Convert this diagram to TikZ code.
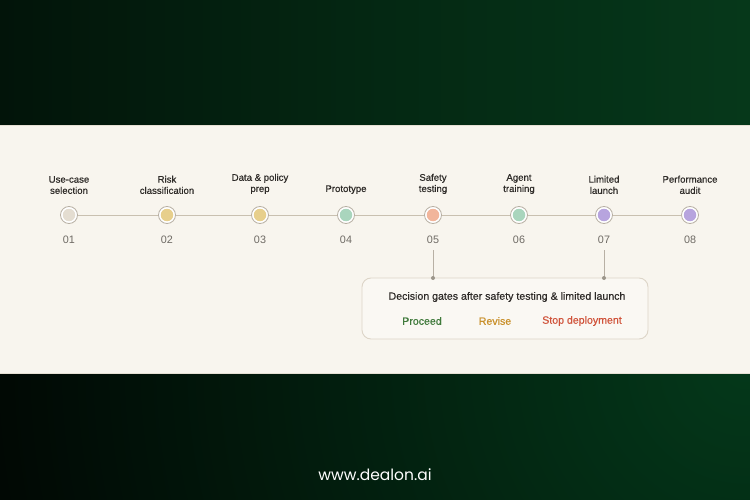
\documentclass[tikz,border=0pt]{standalone}
\usepackage{fontspec}
\setmainfont{Liberation Sans}
\newfontfamily\medfont{Liberation Sans}[FakeBold=0.5]
\newfontfamily\numfont{Liberation Sans}
\newfontfamily\urlfont{Poppins}
\definecolor{topgreen}{HTML}{07421F}
\definecolor{botgreen}{HTML}{04381A}
\definecolor{panel}{HTML}{F8F5EE}
\definecolor{panelline}{HTML}{E6E0D4}
\definecolor{track}{HTML}{C9C0B0}
\definecolor{ringc}{HTML}{B8B0A4}
\definecolor{labelc}{HTML}{2E2B28}
\definecolor{numc}{HTML}{6E6A64}
\definecolor{cGray}{HTML}{E4DDD1}
\definecolor{cGold}{HTML}{E7CF8C}
\definecolor{cMint}{HTML}{A9D5BD}
\definecolor{cPeach}{HTML}{F1B59B}
\definecolor{cLav}{HTML}{B7A4DE}
\definecolor{boxfill}{HTML}{FAF8F3}
\definecolor{boxline}{HTML}{DDD5C8}
\definecolor{proceedc}{HTML}{3F7A3B}
\definecolor{revisec}{HTML}{C9902A}
\definecolor{stopc}{HTML}{D0533A}
\pgfdeclarehorizontalshading{topshade}{100bp}{
  color(0bp)=(black);
  color(25bp)=(black!70!topgreen);
  color(50bp)=(black!40!topgreen);
  color(75bp)=(black!15!topgreen);
  color(100bp)=(topgreen)}
\tikzset{
  stage/.style={circle, draw=ringc, line width=0.8pt, fill=white, minimum size=17pt, inner sep=0pt},
  dotfill/.style={circle, inner sep=0pt, minimum size=12.5pt},
  steplabel/.style={font=\medfont\fontsize{9.6}{11.2}\selectfont, text=labelc, align=center, anchor=south},
  numlabel/.style={font=\numfont\fontsize{10.8}{12}\selectfont, text=numc},
  gatetext/.style={font=\medfont\fontsize{10.6}{12}\selectfont},
  trackline/.style={draw=track, line width=0.9pt},
  gateline/.style={draw=ringc, line width=0.9pt},
  gatedot/.style={circle, fill=ringc!85!black, inner sep=0pt, minimum size=4pt},
}
\begin{document}
\begin{tikzpicture}[x=1pt,y=-1pt]
\useasboundingbox (0,0) rectangle (750,500);
% top band
\shade[shading=topshade] (0,0) rectangle (750,125);
% bottom band
\fill[black] (0,374) rectangle (750,500);
\begin{scope}
\clip (0,374) rectangle (750,500);
\shade[inner color=botgreen, outer color=black] (745,365) circle [radius=880pt];
\end{scope}
% panel
\fill[panel] (0,125) rectangle (750,374);
\draw[panelline, line width=0.6pt] (0,125.3) -- (750,125.3) (0,373.7) -- (750,373.7);

% stages
\foreach \i/\x/\c/\t in {1/69/cGray/{Use-case\\selection},
                         2/167/cGold/{Risk\\classification},
                         3/260/cGold/{Data \& policy\\prep},
                         4/346/cMint/{Prototype},
                         5/433/cPeach/{Safety\\testing},
                         6/519/cMint/{Agent\\training},
                         7/604/cLav/{Limited\\launch},
                         8/690/cLav/{Performance\\audit}} {
  \node[stage] (s\i) at (\x,215) {};
  \node[dotfill, fill=\c] (f\i) at (\x,215) {};
  \node[steplabel] (t\i) at (\x,197.5) {\t};
  \node[numlabel] (n\i) at (\x,239.5) {0\i};
}
\foreach \a/\b in {1/2,2/3,3/4,4/5,5/6,6/7,7/8}
  \draw[trackline] (s\a) -- (s\b);

% decision box
\node[draw=boxline, fill=boxfill, line width=0.9pt, rounded corners=9pt, minimum width=286pt, minimum height=61pt, inner sep=0pt] (box) at (505,308.5) {};
\node[gatetext, text=labelc] (gtitle) at (507,297) {Decision gates after safety testing \& limited launch};
\node[gatetext, text=proceedc] (gp) at (422,321) {Proceed};
\node[gatetext, text=revisec] (gr) at (495,321) {Revise};
\node[gatetext, text=stopc] (gs) at (582,321) {Stop deployment};
\coordinate (g5) at (433,278);
\coordinate (g7) at (604,278);
\draw[gateline] (433,250) -- (g5);
\draw[gateline] (604,250) -- (g7);
\node[gatedot] at (g5) {};
\node[gatedot] at (g7) {};

% footer
\node[font=\urlfont\fontsize{15.5}{18}\selectfont, text=white] (url) at (375,475) {www.dealon.ai};
\end{tikzpicture}
\end{document}
